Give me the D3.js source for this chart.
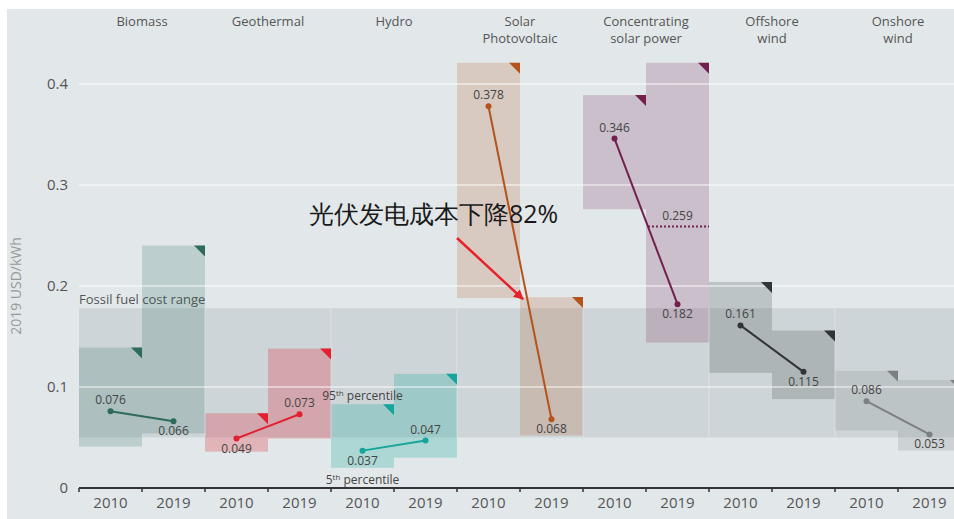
<!DOCTYPE html>
<html>
<head>
<meta charset="utf-8">
<script src="https://cdn.jsdelivr.net/npm/d3@7"></script>
<style>
  body { margin: 0; background: #fff; }
  text { font-family: "Open Sans", "Noto Sans", sans-serif; }
</style>
</head>
<body>
<div id="chart"></div>
<script>
// technologies and years
var techs = ["Biomass", "Geothermal", "Hydro", "Solar\nPhotovoltaic", "Concentrating\nsolar power", "Offshore\nwind", "Onshore\nwind"]
var years = ["2010", "2019"]

// weighted average LCOE, 2019 USD/kWh
var lcoe2010 = [0.076, 0.049, 0.037, 0.378, 0.346, 0.161, 0.086]
var lcoe2019 = [0.066, 0.073, 0.047, 0.068, 0.182, 0.115, 0.053]

// 5th / 95th percentile ranges
var p95_2010 = [0.139, 0.074, 0.083, 0.421, 0.389, 0.204, 0.116]
var p5_2010  = [0.041, 0.036, 0.020, 0.188, 0.276, 0.114, 0.057]
var p95_2019 = [0.240, 0.138, 0.113, 0.189, 0.421, 0.156, 0.107]
var p5_2019  = [0.054, 0.049, 0.030, 0.052, 0.144, 0.088, 0.037]

var fossilRange = [0.050, 0.178]
var cspAuction = 0.259
var yTicks = [0, 0.1, 0.2, 0.3, 0.4]

var colors = ["#2e6b5d", "#e2202f", "#15a59a", "#b4531c", "#74204f", "#2f3538", "#7b8083"]

var width = 954, height = 519

var svg = d3.select("#chart").append("svg")
    .attr("width", width)
    .attr("height", height)

svg.append("rect")
    .attr("x", 7).attr("y", 9)
    .attr("width", width - 7).attr("height", height - 9)
    .attr("fill", "#e2e8ea")

var keys = []
techs.forEach(function(t, i) { years.forEach(function(yr) { keys.push(i + "|" + yr) }) })

var x = d3.scaleBand().domain(keys).range([79, 961]).padding(0)
var y = d3.scaleLinear().domain([0, 0.4]).range([488, 84])

// build rows
var rows = []
techs.forEach(function(t, i) {
  rows.push({ tech: i, year: "2010", key: i + "|2010", v: lcoe2010[i], lo: p5_2010[i], hi: p95_2010[i] })
  rows.push({ tech: i, year: "2019", key: i + "|2019", v: lcoe2019[i], lo: p5_2019[i], hi: p95_2019[i] })
})

// fossil fuel band
svg.append("rect")
    .attr("x", x.range()[0])
    .attr("y", y(fossilRange[1]))
    .attr("width", width - x.range()[0])
    .attr("height", y(fossilRange[0]) - y(fossilRange[1]))
    .attr("fill", "#aab3b8")
    .attr("opacity", 0.35)

svg.append("text")
    .attr("x", x.range()[0])
    .attr("y", y(fossilRange[1]) - 4)
    .attr("font-size", 13)
    .attr("fill", "#555")
    .text("Fossil fuel cost range")

// percentile boxes
svg.selectAll(".box")
  .data(rows)
  .join("rect")
    .attr("class", "box")
    .attr("x", function(d) { return x(d.key) })
    .attr("y", function(d) { return y(d.hi) })
    .attr("width", x.bandwidth())
    .attr("height", function(d) { return y(d.lo) - y(d.hi) })
    .attr("fill", function(d) { return colors[d.tech] })
    .attr("opacity", function(d) { return d.tech == 1 || d.tech == 2 ? 0.26 : 0.2 })

// separators inside fossil band
svg.selectAll(".sep")
  .data(techs.slice(1))
  .join("line")
    .attr("x1", function(d, i) { return x((i + 1) + "|2010") })
    .attr("x2", function(d, i) { return x((i + 1) + "|2010") })
    .attr("y1", y(fossilRange[1]))
    .attr("y2", y(fossilRange[0]))
    .attr("stroke", "#e6eaec")
    .attr("stroke-opacity", 0.6)

// grid lines
svg.selectAll(".grid")
  .data(yTicks.slice(1))
  .join("line")
    .attr("x1", x.range()[0]).attr("x2", width)
    .attr("y1", function(d) { return y(d) }).attr("y2", function(d) { return y(d) })
    .attr("stroke", "#fff")
    .attr("stroke-opacity", 0.6)
    .attr("stroke-width", 1.5)

// corner triangles
svg.selectAll(".tri")
  .data(rows)
  .join("path")
    .attr("d", function(d) {
      var r = x(d.key) + x.bandwidth(), t = y(d.hi)
      return "M" + (r - 11) + "," + t + "L" + r + "," + t + "L" + r + "," + (t + 11) + "Z"
    })
    .attr("fill", function(d) { return colors[d.tech] })

// CSP auction dotted line
svg.append("line")
    .attr("x1", x("4|2019") + 2).attr("x2", x("4|2019") + x.bandwidth())
    .attr("y1", y(cspAuction)).attr("y2", y(cspAuction))
    .attr("stroke", colors[4])
    .attr("stroke-width", 2)
    .attr("stroke-dasharray", "2,2")

svg.append("text")
    .attr("x", x("4|2019") + x.bandwidth() / 2)
    .attr("y", y(cspAuction) - 6)
    .attr("text-anchor", "middle")
    .attr("font-size", 12)
    .attr("fill", "#444")
    .text(cspAuction.toFixed(3))

// connecting lines
techs.forEach(function(t, i) {
  svg.append("line")
      .attr("x1", x(i + "|2010") + x.bandwidth() / 2)
      .attr("y1", y(lcoe2010[i]))
      .attr("x2", x(i + "|2019") + x.bandwidth() / 2)
      .attr("y2", y(lcoe2019[i]))
      .attr("stroke", colors[i])
      .attr("stroke-width", 2)
})

svg.selectAll(".dot")
  .data(rows)
  .join("circle")
    .attr("cx", function(d) { return x(d.key) + x.bandwidth() / 2 })
    .attr("cy", function(d) { return y(d.v) })
    .attr("r", 3)
    .attr("fill", function(d) { return colors[d.tech] })

// value labels: 2010 above, 2019 below (a couple exceptions)
var above = ["0|2010", "1|2019", "2|2019", "3|2010", "4|2010", "5|2010", "6|2010"]
svg.selectAll(".val")
  .data(rows)
  .join("text")
    .attr("x", function(d) { return x(d.key) + x.bandwidth() / 2 })
    .attr("y", function(d) { return y(d.v) + (above.indexOf(d.key) >= 0 ? -7 : 14) })
    .attr("text-anchor", "middle")
    .attr("font-size", 12)
    .attr("fill", "#444")
    .text(function(d) { return d.v.toFixed(3) })

// percentile labels on hydro 2010
var pct = [{ n: "95", v: p95_2010[2], dy: -4 }, { n: "5", v: p5_2010[2], dy: 16 }]
pct.forEach(function(p) {
  var tx = svg.append("text")
      .attr("x", x("2|2010") + x.bandwidth() / 2)
      .attr("y", y(p.v) + p.dy)
      .attr("text-anchor", "middle")
      .attr("font-size", 12)
      .attr("fill", "#444")
  tx.append("tspan").text(p.n)
  tx.append("tspan").attr("font-size", 8).attr("dy", -4).text("th")
  tx.append("tspan").attr("dy", 4).text(" percentile")
})

// y axis labels
svg.selectAll(".ytick")
  .data(yTicks)
  .join("text")
    .attr("x", 68)
    .attr("y", function(d) { return y(d) + 5 })
    .attr("text-anchor", "end")
    .attr("font-size", 15)
    .attr("fill", "#555")
    .text(function(d) { return d === 0 ? "0" : d3.format(".1f")(d) })

svg.append("text")
    .attr("transform", "translate(21," + y(0.2) + ") rotate(-90)")
    .attr("text-anchor", "middle")
    .attr("font-size", 14)
    .attr("fill", "#999")
    .text("2019 USD/kWh")

// x axis
var xAxis = svg.append("g")
    .attr("transform", "translate(0," + y(0) + ")")
    .call(d3.axisBottom(x).tickSize(0).tickPadding(9).tickFormat(function(k) { return k.split("|")[1] }))
xAxis.select(".domain").remove()
xAxis.selectAll("text")
    .attr("font-size", 15)
    .attr("fill", "#555")
    .attr("font-family", "Open Sans, sans-serif")

svg.append("line")
    .attr("x1", x.range()[0]).attr("x2", width)
    .attr("y1", y(0)).attr("y2", y(0))
    .attr("stroke", "#333")
    .attr("stroke-width", 2)

svg.selectAll(".xtick")
  .data(keys)
  .join("line")
    .attr("x1", function(d) { return x(d) })
    .attr("x2", function(d) { return x(d) })
    .attr("y1", y(0)).attr("y2", y(0) + 4)
    .attr("stroke", "#333")
    .attr("stroke-width", 1.5)

// technology headers, one text per line
techs.forEach(function(t, i) {
  var cx = x(i + "|2019")
  t.split("\n").forEach(function(l, j) {
    svg.append("text")
        .attr("x", cx)
        .attr("y", 26 + j * 17)
        .attr("text-anchor", "middle")
        .attr("font-size", 13)
        .attr("font-family", "Liberation Sans, Arial, sans-serif")
        .attr("fill", "#555")
        .text(l)
  })
})

// annotation
svg.append("defs").append("marker")
    .attr("id", "arrow")
    .attr("viewBox", "0 0 10 10")
    .attr("refX", 9).attr("refY", 5)
    .attr("markerWidth", 4).attr("markerHeight", 4)
    .attr("orient", "auto")
  .append("path")
    .attr("d", "M0,0L10,5L0,10Z")
    .attr("fill", "#e8202a")

svg.append("line")
    .attr("x1", x("3|2010"))
    .attr("y1", y(0.2475))
    .attr("x2", x("3|2019") + 3)
    .attr("y2", y(0.187))
    .attr("stroke", "#e8202a")
    .attr("stroke-width", 2.5)
    .attr("marker-end", "url(#arrow)")

svg.append("text")
    .attr("x", x("1|2019") + 41)
    .attr("y", y(0.262))
    .attr("font-size", 25)
    .attr("fill", "#1a1a1a")
    .attr("font-family", "Noto Sans CJK SC, sans-serif")
    .text("光伏发电成本下降82%")
</script>
</body>
</html>
